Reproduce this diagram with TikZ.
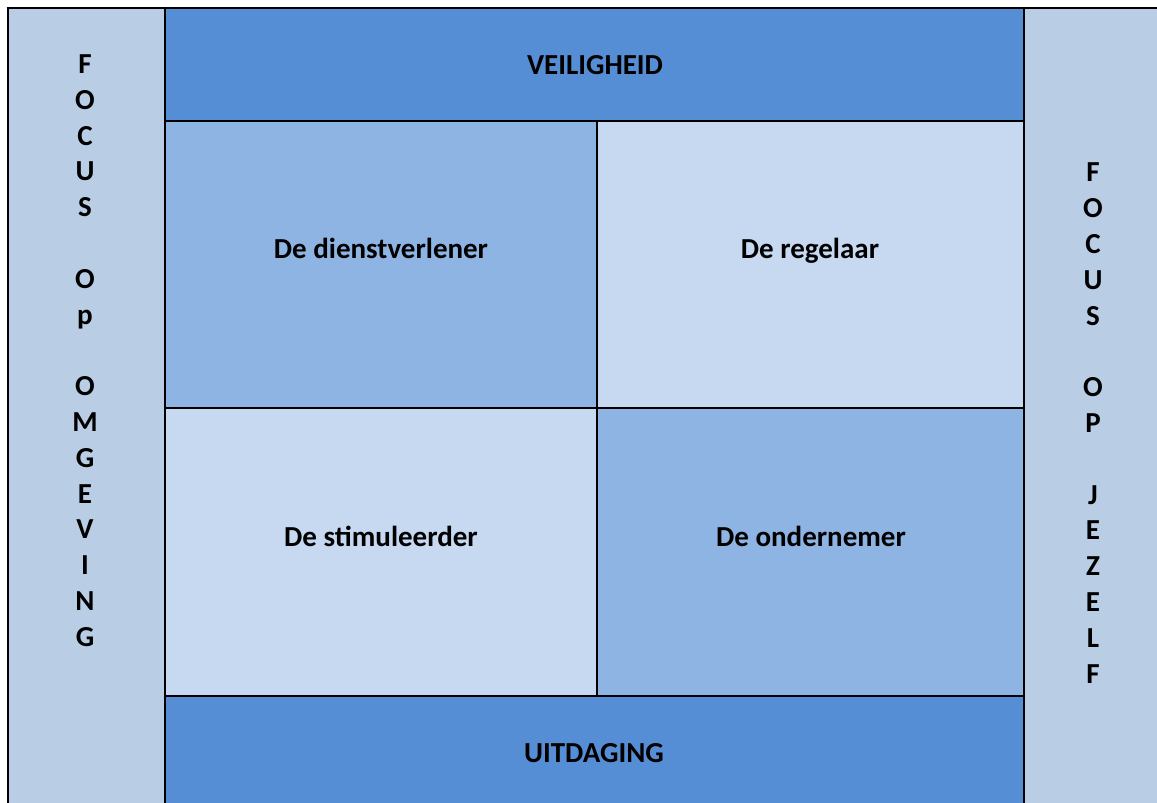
\documentclass[tikz,border=0pt]{standalone}
\usepackage{fontspec}
\setmainfont{Carlito}
\definecolor{bandblue}{HTML}{558ED5}
\definecolor{sideblue}{HTML}{B9CDE5}
\definecolor{midblue}{HTML}{8EB4E3}
\definecolor{lightblue}{HTML}{C6D9F1}
\begin{document}
\begin{tikzpicture}[x=1pt,y=-1pt,
  lbl/.style={font=\fontsize{29}{34}\selectfont\bfseries, text=black, inner sep=0pt, anchor=base},
  col/.style={font=\fontsize{29}{35.8}\selectfont\bfseries, text=black, align=center, inner sep=0pt},
  thick line/.style={line width=2.8pt},
  thin line/.style={line width=2pt}]
\useasboundingbox (0,0) rectangle (1157,803);
% fills
\fill[sideblue] (8,8) rectangle (165,803);
\fill[sideblue] (1024,8) rectangle (1157,803);
\fill[bandblue] (165,8) rectangle (1024,121);
\fill[bandblue] (165,696) rectangle (1024,803);
\fill[midblue] (165,121) rectangle (597,408);
\fill[lightblue] (597,121) rectangle (1024,408);
\fill[lightblue] (165,408) rectangle (597,696);
\fill[midblue] (597,408) rectangle (1024,696);
% lines
\draw[thick line] (6.6,8) -- (1157,8);
\draw[thick line] (8,8) -- (8,803);
\draw[thick line] (165,8) -- (165,803);
\draw[thick line] (1024,8) -- (1024,803);
\draw[thin line] (165,121) -- (1024,121);
\draw[thin line] (165,408) -- (1024,408);
\draw[thin line] (165,696) -- (1024,696);
\draw[thin line] (597,121) -- (597,696);
% labels
\node[lbl] (veilig) at (595,74.5) {VEILIGHEID};
\node[lbl] (uitdag) at (594,762.5) {UITDAGING};
\node[lbl] (dienst) at (381,258.5) {De dienstverlener};
\node[lbl] (regel) at (810,258.5) {De regelaar};
\node[lbl] (stimul) at (381,546.5) {De stimuleerder};
\node[lbl] (onder) at (811,546.5) {De ondernemer};
\node[col] (omgeving) at (85,350.5) {F\\O\\C\\U\\S\\\mbox{}\\O\\p\\\mbox{}\\O\\M\\G\\E\\V\\I\\N\\G};
\node[col] (jezelf) at (1093,423) {F\\O\\C\\U\\S\\\mbox{}\\O\\P\\\mbox{}\\J\\E\\Z\\E\\L\\F};
\end{tikzpicture}
\end{document}
